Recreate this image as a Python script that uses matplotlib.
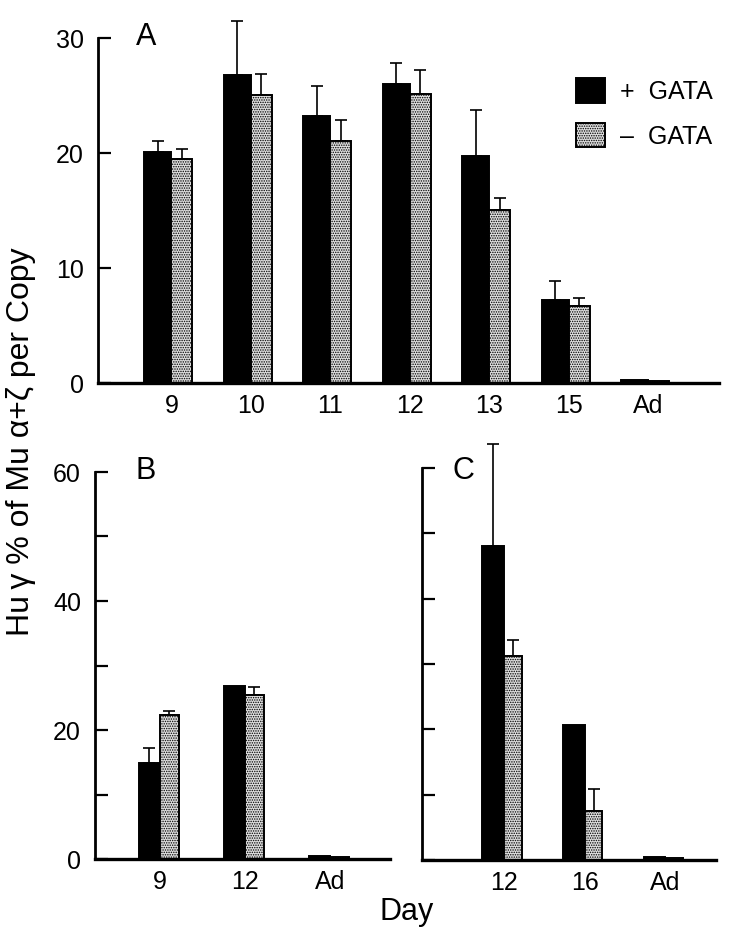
import numpy as np
import matplotlib
matplotlib.use("Agg")
import matplotlib.pyplot as plt
from matplotlib.patches import Patch

plt.rcParams['font.family'] = ['Liberation Sans Narrow', 'Liberation Sans', 'DejaVu Sans']
plt.rcParams['hatch.linewidth'] = 0.7

# ---------------- data ----------------
A_days = ['9', '10', '11', '12', '13', '15', 'Ad']
A_plus = [20.1, 26.75, 23.2, 26.0, 19.75, 7.26, 0.25]
A_plus_err = [0.95, 4.75, 2.6, 1.85, 4.0, 1.65, 0]
A_minus = [19.45, 25.0, 21.0, 25.1, 15.05, 6.7, 0.15]
A_minus_err = [0.9, 1.9, 1.85, 2.15, 1.0, 0.65, 0]

B_days = ['9', '12', 'Ad']
B_plus = [14.9, 26.8, 0.45]
B_plus_err = [2.3, 0, 0]
B_minus = [22.3, 25.5, 0.3]
B_minus_err = [0.7, 1.1, 0]

C_days = ['12', '16', 'Ad']
C_plus = [48.1, 20.6, 0.45]
C_plus_err = [15.5, 0, 0]
C_minus = [31.3, 7.5, 0.3]
C_minus_err = [2.3, 3.3, 0]

legend_labels = ['+  GATA', '\u2013  GATA']

W, H = 737, 938
fig = plt.figure(figsize=(W / 100, H / 100), dpi=100)


def px_axes(l, r, b, t):
    return fig.add_axes([l / W, 1 - b / H, (r - l) / W, (b - t) / H])


DOT = dict(facecolor='#dedede', edgecolor='black', hatch='.......', linewidth=1.4)
BLK = dict(facecolor='black', edgecolor='black', linewidth=1.4)


def panel(ax, days, plus, perr, minus, merr, wb, wd, xlim, ylim, yticks, ylabels):
    x = np.arange(len(days))
    ax.bar(x, plus, width=-wb, align='edge', **BLK, zorder=2)
    ax.bar(x, minus, width=wd, align='edge', **DOT, zorder=2)
    for xs, vals, errs in ((x - wb / 2, plus, perr), (x + wd / 2, minus, merr)):
        idx = [i for i, e in enumerate(errs) if e > 0]
        if idx:
            cont = ax.errorbar(xs[idx], np.array(vals)[idx],
                               yerr=[np.zeros(len(idx)), np.array(errs)[idx]],
                               fmt='none', ecolor='black', elinewidth=1.2,
                               capsize=4.5, capthick=1.2, zorder=1)
            for art in cont.get_children():
                art.set_clip_on(False)
    ax.set_xlim(*xlim)
    ax.set_ylim(*ylim)
    ax.set_xticks(x)
    ax.set_xticklabels(days, fontsize=18)
    ax.tick_params(axis='x', length=0, pad=8)
    ax.set_yticks(yticks)
    ax.set_yticklabels(ylabels, fontsize=18)
    ax.tick_params(axis='y', direction='in', length=9, width=1.6, pad=10)
    for s in ('top', 'right'):
        ax.spines[s].set_visible(False)
    ax.spines['left'].set_linewidth(2.0)
    ax.spines['bottom'].set_linewidth(2.4)
    ax.patch.set_alpha(0)


# Panel A
axA = px_axes(98, 719, 383, 38)
panel(axA, A_days, A_plus, A_plus_err, A_minus, A_minus_err,
      0.34, 0.26, (-0.923, 6.888), (0, 30),
      [0, 10, 20, 30], ['0', '10', '20', '30'])
fig.text(136 / W, 1 - 37 / H, 'A', fontsize=22, ha='left', va='center')

# Panel B
axB = px_axes(95, 390, 859, 472)
panel(axB, B_days, B_plus, B_plus_err, B_minus, B_minus_err,
      0.25, 0.22, (-0.765, 2.706), (0, 60),
      [0, 10, 20, 30, 40, 50, 60], ['0', '', '20', '', '40', '', '60'])
fig.text(135 / W, 1 - 471 / H, 'B', fontsize=22, ha='left', va='center')

# Panel C
axC = px_axes(422, 716, 860, 468)
panel(axC, C_days, C_plus, C_plus_err, C_minus, C_minus_err,
      0.27, 0.22, (-1.02, 2.63), (0, 60),
      [0, 10, 20, 30, 40, 50, 60], [''] * 7)
fig.text(453 / W, 1 - 471 / H, 'C', fontsize=22, ha='left', va='center')

# Legend
handles = [Patch(**BLK), Patch(**DOT)]
fig.legend(handles, legend_labels, loc='upper left',
           bbox_to_anchor=(576 / W, 1 - 78 / H), frameon=False, fontsize=18,
           handlelength=1.15, handleheight=1.15, handletextpad=0.6,
           labelspacing=0.75, borderpad=0, borderaxespad=0)

# Axis labels
fig.text(407 / W, 1 - 912 / H, 'Day', fontsize=22, ha='center', va='center')
fig.text(21 / W, 1 - 442 / H, 'Hu\u2009\u03b3 % of Mu \u03b1+\u03b6 per Copy',
         fontsize=23, rotation=90, ha='center', va='center')

fig.savefig('out.png', dpi=100)
